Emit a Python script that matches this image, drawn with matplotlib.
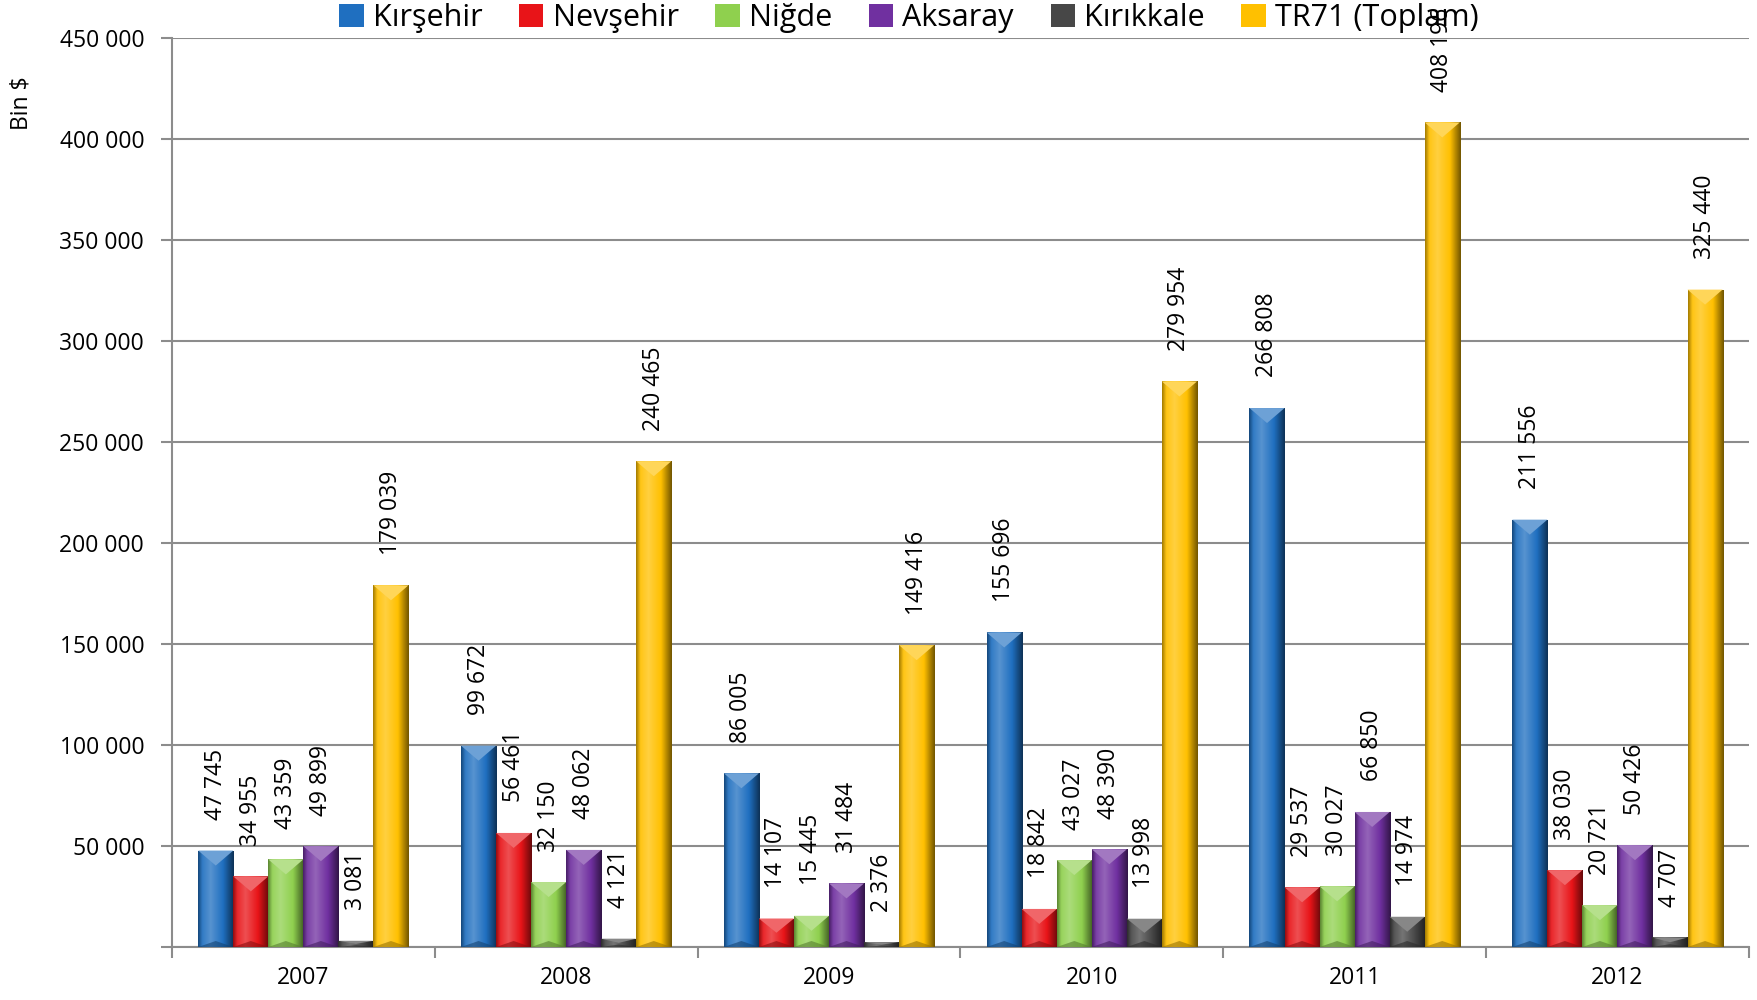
import numpy as np
import matplotlib
matplotlib.use('Agg')
import matplotlib.pyplot as plt
from matplotlib.colors import to_rgb
from matplotlib.patches import Polygon, Patch

plt.rcParams['font.family'] = ['Open Sans', 'DejaVu Sans']

# Veriler (Bin $)
yillar = ['2007', '2008', '2009', '2010', '2011', '2012']
seriler = ['Kırşehir', 'Nevşehir', 'Niğde', 'Aksaray', 'Kırıkkale', 'TR71 (Toplam)']
kirsehir = [47745, 99672, 86005, 155696, 266808, 211556]
nevsehir = [34955, 56461, 14107, 18842, 29537, 38030]
nigde = [43359, 32150, 15445, 43027, 30027, 20721]
aksaray = [49899, 48062, 31484, 48390, 66850, 50426]
kirikkale = [3081, 4121, 2376, 13998, 14974, 4707]
tr71 = [179039, 240465, 149416, 279954, 408196, 325440]
degerler = [kirsehir, nevsehir, nigde, aksaray, kirikkale, tr71]
renkler = ['#1f6fc0', '#e81418', '#8fd04e', '#7030a0', '#474747', '#ffc000']


def fmt(v):
    return f'{v:,}'.replace(',', ' ')


def gradyan(c, n=64):
    c = np.array(to_rgb(c))
    t = np.linspace(0, 1, n)
    # kenarlar koyu, orta-sol parlak
    parlak = np.clip(1 - np.abs(t - 0.35) / 0.35, 0, 1) * 0.25
    koyu = np.clip((t - 0.7) / 0.3, 0, 1) * 0.55 + np.clip((0.12 - t) / 0.12, 0, 1) * 0.35
    rgb = c[None, :] * (1 - koyu[:, None]) + (1 - c[None, :]) * parlak[:, None]
    return np.clip(rgb, 0, 1)[None, :, :]


fig = plt.figure(figsize=(17.58, 10), dpi=100)
ax = fig.add_axes([0.0978, 0.053, 0.897, 0.909])

x = np.arange(len(yillar))
gen = 0.8 / len(seriler)
ymax = 450000
px = ymax / 909.0  # veri birimi / piksel

for i, (ad, vals, c) in enumerate(zip(seriler, degerler, renkler)):
    konum = x - 0.4 + gen * (i + 0.5)
    bars = ax.bar(konum, vals, width=gen, color=c, edgecolor='none', zorder=3, label=ad)
    g = gradyan(c)
    for b, v in zip(bars, vals):
        x0, w, h = b.get_x(), b.get_width(), b.get_height()
        im = ax.imshow(g, extent=[x0, x0 + w, 0, h], aspect='auto', zorder=3.1,
                       interpolation='bilinear')
        im.set_clip_path(b)
        d = min(15 * px, h * 0.5)
        acik = np.clip(np.array(to_rgb(c)) + (1 - np.array(to_rgb(c))) * 0.35, 0, 1)
        ax.add_patch(Polygon([[x0, h], [x0 + w, h], [x0 + w * 0.5, h - d]],
                             closed=True, color=acik, zorder=3.2, lw=0))
        db = min(6 * px, h * 0.3)
        koyu = np.array(to_rgb(c)) * 0.6
        ax.add_patch(Polygon([[x0, 0], [x0 + w, 0], [x0 + w * 0.5, db]],
                             closed=True, color=koyu, zorder=3.2, lw=0, alpha=0.6))
        ax.annotate(fmt(v), (x0 + w / 2, h), xytext=(0, 22), textcoords='offset points',
                    rotation=90, ha='center', va='bottom', fontsize=16.5, zorder=5)

ax.set_xlim(-0.5, len(yillar) - 0.5)
ax.set_ylim(0, ymax)
ax.set_yticks(np.arange(0, ymax + 1, 50000))
ax.set_yticklabels([''] + [fmt(v) for v in np.arange(50000, ymax + 1, 50000)], fontsize=16.5)
ax.set_xticks(x)
ax.set_xticklabels(yillar, fontsize=16.5)
ax.set_xticks(np.arange(-0.5, len(yillar)), minor=True)
ax.tick_params(axis='x', which='major', length=0, pad=14)
ax.tick_params(axis='x', which='minor', length=8, width=1.5, color='#8c8c8c')
ax.tick_params(axis='y', length=8, width=1.5, color='#8c8c8c', pad=12)
ax.yaxis.grid(True, color='#8c8c8c', linewidth=1.5, zorder=0)
ax.set_axisbelow(True)
for s in ['top', 'right']:
    ax.spines[s].set_visible(False)
for s in ['left', 'bottom']:
    ax.spines[s].set_color('#8c8c8c')
    ax.spines[s].set_linewidth(1.5)

fig.text(0.012, 0.897, 'Bin $', rotation=90, ha='center', va='center', fontsize=16.5)

tutamak = [Patch(facecolor=c, edgecolor='none') for c in renkler]
fig.legend(tutamak, seriler, loc='center', bbox_to_anchor=(0.517, 0.982), ncol=6,
           frameon=False, fontsize=22, handlelength=0.8, handleheight=0.8,
           handletextpad=0.3, columnspacing=1.2)

fig.savefig('out.png', dpi=100)
